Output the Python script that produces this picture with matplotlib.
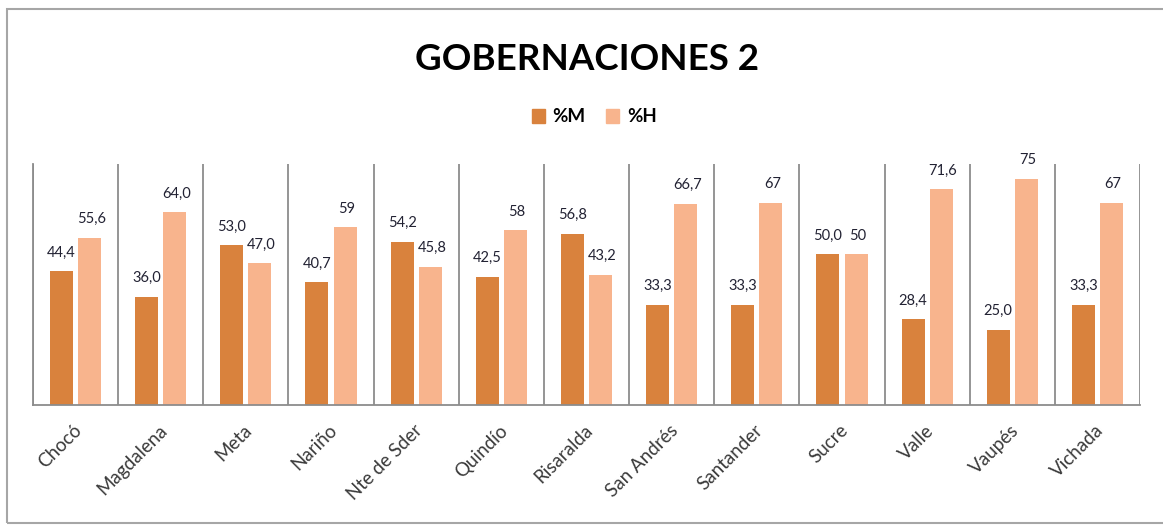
import matplotlib.pyplot as plt
import numpy as np
from matplotlib.patches import Rectangle, Patch

plt.rcParams['font.family'] = ['Lato', 'DejaVu Sans']

# datos
categorias = ['Chocó', 'Magdalena', 'Meta', 'Nariño', 'Nte de Sder', 'Quindío',
              'Risaralda', 'San Andrés', 'Santander', 'Sucre', 'Valle', 'Vaupés', 'Vichada']
pct_m = [44.4, 36.0, 53.0, 40.7, 54.2, 42.5, 56.8, 33.3, 33.3, 50.0, 28.4, 25.0, 33.3]
pct_h = [55.6, 64.0, 47.0, 59, 45.8, 58, 43.2, 66.7, 67, 50, 71.6, 75, 67]
etiq_m = ['44,4', '36,0', '53,0', '40,7', '54,2', '42,5', '56,8', '33,3', '33,3', '50,0', '28,4', '25,0', '33,3']
etiq_h = ['55,6', '64,0', '47,0', '59', '45,8', '58', '43,2', '66,7', '67', '50', '71,6', '75', '67']

col_m = '#D9823D'
col_h = '#F8B48D'
gris = '#8c8c8c'

fig = plt.figure(figsize=(11.63, 5.25), dpi=100)
ax = fig.add_axes([33 / 1163, 1 - 405 / 525, (1140 - 33) / 1163, (405 - 164) / 525])

x = np.arange(len(categorias))
w = 0.27
off = 0.165
ax.bar(x - off, pct_m, w, color=col_m, label='%M')
ax.bar(x + off, pct_h, w, color=col_h, label='%H')

for i in range(len(categorias)):
    ax.annotate(etiq_m[i], (x[i] - off, pct_m[i]), xytext=(0, 13.5), textcoords='offset points',
                ha='center', va='center', fontsize=10.5, color='#222233')
    ax.annotate(etiq_h[i], (x[i] + off + 0.02, pct_h[i]), xytext=(0, 13.5), textcoords='offset points',
                ha='center', va='center', fontsize=10.5, color='#222233')

ax.set_xlim(-0.5, len(categorias) - 0.5)
ax.set_ylim(0, 80)
for b in np.arange(-0.5, len(categorias), 1.0):
    ax.axvline(b, color=gris, lw=1.3)
for s in ['top', 'right']:
    ax.spines[s].set_visible(False)
ax.spines['left'].set_color(gris)
ax.spines['bottom'].set_color(gris)
ax.spines['left'].set_linewidth(1.3)
ax.spines['bottom'].set_linewidth(1.3)
ax.set_yticks([])
ax.set_xticks(x - 0.03)
ax.set_xticklabels(categorias, rotation=45, ha='right', va='top', rotation_mode='anchor',
                   fontsize=13.5, color='#3a3a3a')
ax.tick_params(axis='x', length=0, pad=12)

fig.text(0.505, 1 - 59 / 525, 'GOBERNACIONES 2', ha='center', va='center',
         fontsize=26.5, fontweight='bold', color='black')

handles = [Patch(color=col_m, label='%M'), Patch(color=col_h, label='%H')]
fig.legend(handles=handles, loc='center', bbox_to_anchor=(0.511, 1 - 117 / 525), ncol=2,
           frameon=False, prop={'weight': 'bold', 'size': 13.5}, handlelength=0.7,
           handleheight=0.7, handletextpad=0.4, columnspacing=1.1)

# marco del grafico
fig.patches.append(Rectangle((7 / 1163, 1 - 523 / 525), 1.0, (523 - 9) / 525,
                             transform=fig.transFigure, fill=False, edgecolor='#a6a6a6', lw=1.5))

fig.savefig('out.png', dpi=100)
